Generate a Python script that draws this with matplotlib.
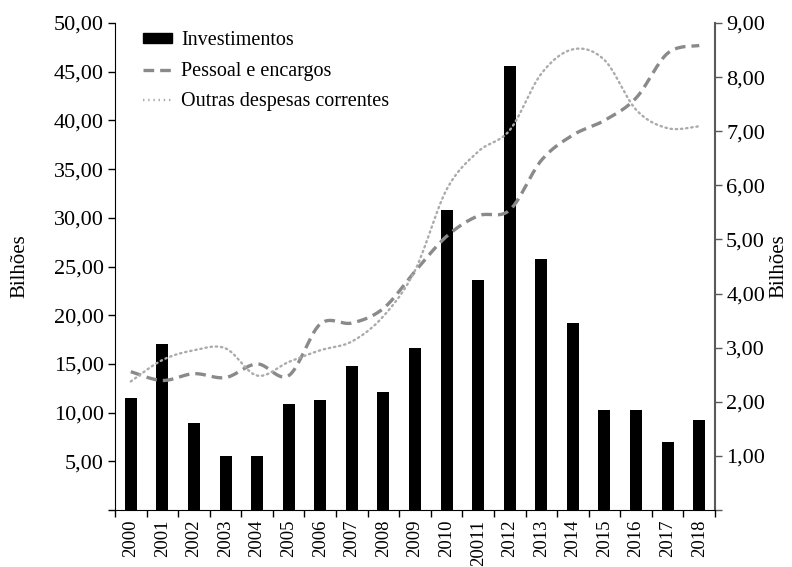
import numpy as np
import matplotlib
matplotlib.use("Agg")
import matplotlib.pyplot as plt
from matplotlib.patches import Patch
from matplotlib.lines import Line2D

plt.rcParams['font.family'] = ['Liberation Serif', 'DejaVu Serif']

anos = ['2000', '2001', '2002', '2003', '2004', '2005', '2006', '2007', '2008', '2009',
        '2010', '20011', '2012', '2013', '2014', '2015', '2016', '2017', '2018']
# bilhoes (eixo direito)
investimentos = [2.07, 3.06, 1.60, 0.99, 0.99, 1.96, 2.03, 2.66, 2.18, 2.99,
                 5.54, 4.25, 8.20, 4.63, 3.46, 1.85, 1.85, 1.26, 1.67]
# bilhoes (eixo esquerdo)
pessoal = [14.2, 13.3, 14.0, 13.6, 15.0, 13.8, 19.1, 19.2, 20.7, 24.5,
           28.1, 30.2, 30.8, 35.9, 38.5, 40.0, 42.3, 46.9, 47.7]
outras = [13.2, 15.4, 16.4, 16.6, 13.8, 15.2, 16.4, 17.3, 19.9, 24.6,
          32.9, 36.8, 39.0, 44.8, 47.3, 46.2, 41.1, 39.2, 39.4]


def suave(y, n=30):
    # curva suavizada tipo excel (catmull-rom / bezier)
    y = np.asarray(y, float)
    x = np.arange(len(y), dtype=float)
    p = np.column_stack([x, y])
    pts = []
    t = np.linspace(0, 1, n)[:, None]
    for i in range(len(p) - 1):
        p0 = p[i - 1] if i > 0 else p[i]
        p1, p2 = p[i], p[i + 1]
        p3 = p[i + 2] if i + 2 < len(p) else p[i + 1]
        c1 = p1 + (p2 - p0) / 6
        c2 = p2 - (p3 - p1) / 6
        b = ((1 - t) ** 3) * p1 + 3 * ((1 - t) ** 2) * t * c1 + 3 * (1 - t) * t ** 2 * c2 + t ** 3 * p2
        pts.append(b if i == 0 else b[1:])
    pts = np.vstack(pts)
    return pts[:, 0], pts[:, 1]


fig = plt.figure(figsize=(7.92, 5.67), dpi=100)
ax = fig.add_axes([0.1452, 0.1005, 0.7576, 0.8589])
ax2 = ax.twinx()
ax.set_zorder(ax2.get_zorder() + 1)
ax.patch.set_visible(False)

x = np.arange(len(anos))
ax2.bar(x, investimentos, width=0.38, color='black')

xs, ys = suave(pessoal)
ax.plot(xs, ys, color='#8a8a8a', lw=2.4, dashes=(3.2, 1.8))
xs, ys = suave(outras)
ax.plot(xs, ys, color='#ababab', lw=1.7, linestyle=(0, (0.6, 1.6)), dash_capstyle='round')

ax.set_xlim(-0.5, len(anos) - 0.5)
ax.set_ylim(0, 50)
ax2.set_ylim(0, 9)

fmt = lambda v: ('%.2f' % v).replace('.', ',')
ax.set_yticks(np.arange(0, 51, 5))
ax.set_yticklabels([''] + [fmt(v) for v in np.arange(5, 51, 5)])
ax2.set_yticks(np.arange(0, 10, 1))
ax2.set_yticklabels([''] + [fmt(v) for v in np.arange(1, 10, 1)])

ax.set_xticks(x)
ax.set_xticklabels(anos, rotation=90)
ax.set_xticks(np.arange(-0.5, len(anos), 1), minor=True)
ax.tick_params(axis='x', which='major', length=0, labelsize=13.5, pad=7)
ax.tick_params(axis='x', which='minor', length=5, width=1, direction='out')
ax.tick_params(axis='y', length=5, width=1, labelsize=16, pad=3)
ax2.tick_params(axis='y', length=5, width=1, labelsize=16, pad=3, color='#595959')

for a in (ax, ax2):
    a.spines['top'].set_visible(False)
ax.spines['right'].set_visible(False)
ax2.spines['left'].set_visible(False)
ax2.spines['bottom'].set_visible(False)
ax2.spines['right'].set_color('#595959')
ax2.spines['right'].set_linewidth(1.5)

ax.set_ylabel('Bilhões', fontsize=15)
ax2.set_ylabel('Bilhões', fontsize=15)
ax.yaxis.set_label_coords(-0.142, 0.5)
ax2.yaxis.set_label_coords(1.09, 0.5)

handles = [Patch(facecolor='black', edgecolor='black'),
           Line2D([], [], color='#8a8a8a', lw=2.4, dashes=(3.2, 1.8)),
           Line2D([], [], color='#ababab', lw=1.7, linestyle=(0, (0.6, 1.6)))]
leg = ax.legend(handles, ['Investimentos', 'Pessoal e encargos', 'Outras despesas correntes'],
                loc='upper left', bbox_to_anchor=(0.033, 1.0), frameon=False, fontsize=14.5,
                handlelength=1.45, handleheight=0.4, handletextpad=0.45, labelspacing=0.58,
                borderaxespad=0)

fig.savefig('out.png', dpi=100)
